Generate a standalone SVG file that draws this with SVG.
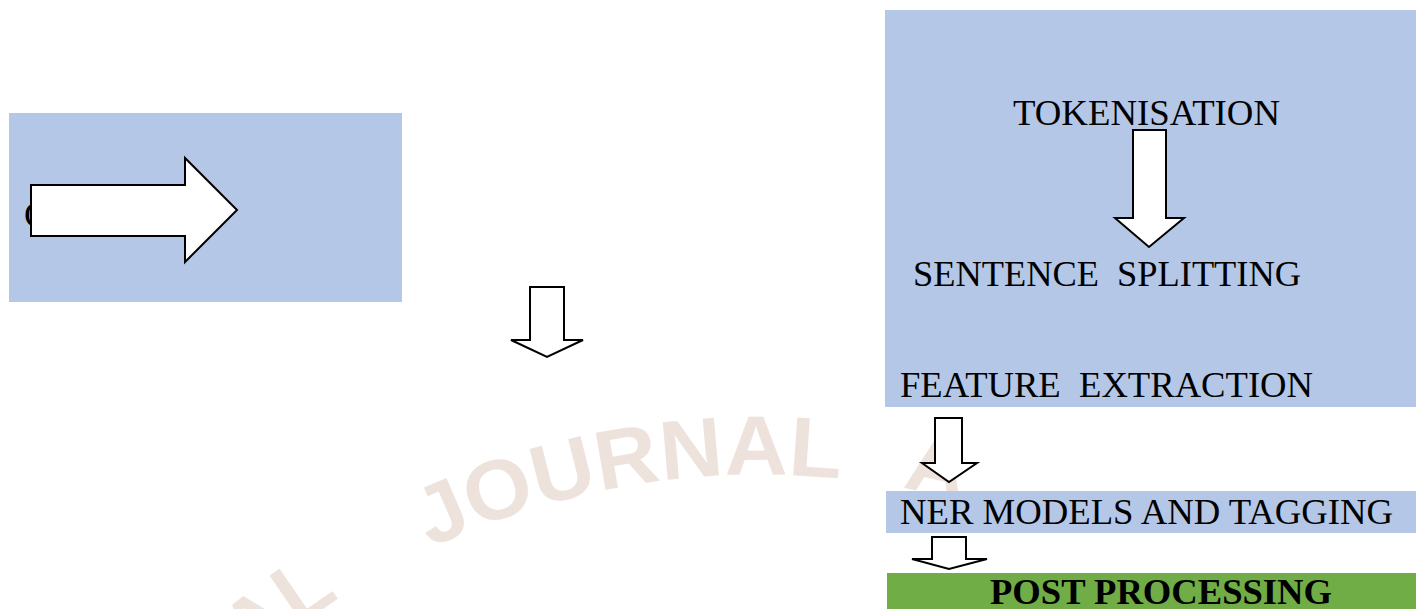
<svg xmlns="http://www.w3.org/2000/svg" width="1416" height="609" viewBox="0 0 1416 609">
  <style>
    .box { fill: #B4C7E7; }
    .green { fill: #70AD47; }
    .lbl { font-family: "Liberation Serif", "Times New Roman", serif; font-size: 36px; fill: #000; }
    .bold { font-weight: bold; }
    .arrow { fill: #FFFFFF; stroke: #000; stroke-width: 2; stroke-linejoin: miter; }
    .wm { font-family: "Liberation Sans", Arial, sans-serif; font-size: 84px; font-weight: bold; fill: #EDE3DC; }
  </style>
  <defs>
    <path id="wmArc" d="M200,713 A777,777 0 0 1 1100,553" fill="none"/>
  </defs>
  <rect width="1416" height="609" fill="#FFFFFF"/>

  <g id="watermark">
    <text class="wm"><textPath href="#wmArc" startOffset="70">AL</textPath></text>
    <text class="wm"><textPath href="#wmArc" startOffset="285" textLength="421" lengthAdjust="spacingAndGlyphs">JOURNAL</textPath></text>
    <text class="wm"><textPath href="#wmArc" startOffset="768">A</textPath></text>
  </g>

  <g id="node-input">
    <rect class="box" x="9" y="113" width="393" height="189"/>
    <text class="lbl" x="24" y="227">C</text>
  </g>

  <g id="node-preprocessing">
    <rect class="box" x="885" y="10" width="531" height="397"/>
    <text class="lbl" x="1013" y="125" textLength="267" lengthAdjust="spacingAndGlyphs">TOKENISATION</text>
    <text class="lbl" x="913" y="286" xml:space="preserve" textLength="388" lengthAdjust="spacingAndGlyphs">SENTENCE  SPLITTING</text>
    <text class="lbl" x="900" y="397" xml:space="preserve" textLength="413" lengthAdjust="spacingAndGlyphs">FEATURE  EXTRACTION</text>
  </g>

  <g id="node-ner">
    <rect class="box" x="886" y="491" width="530" height="42"/>
    <text class="lbl" x="900" y="524" textLength="493" lengthAdjust="spacingAndGlyphs">NER MODELS AND TAGGING</text>
  </g>

  <g id="node-post">
    <rect class="green" x="887" y="573" width="529" height="36"/>
    <text class="lbl bold" x="990" y="604" textLength="342" lengthAdjust="spacingAndGlyphs">POST PROCESSING</text>
  </g>

  <g id="connectors">
    <polygon class="arrow" points="31,185 185,185 185,158 237,210 185,262 185,236 31,236"/>
    <polygon class="arrow" points="530,287 564,287 564,340 583,340 547,357 511,340 530,340"/>
    <polygon class="arrow" points="1133,130 1166,130 1166,218 1184,218 1149,247 1115,218 1133,218"/>
    <polygon class="arrow" points="935,418 962,418 962,463 977,463 949,482 922,463 935,463"/>
    <polygon class="arrow" points="932,537 966,537 966,559 987,559 949,569 912,559 932,559"/>
  </g>
</svg>
